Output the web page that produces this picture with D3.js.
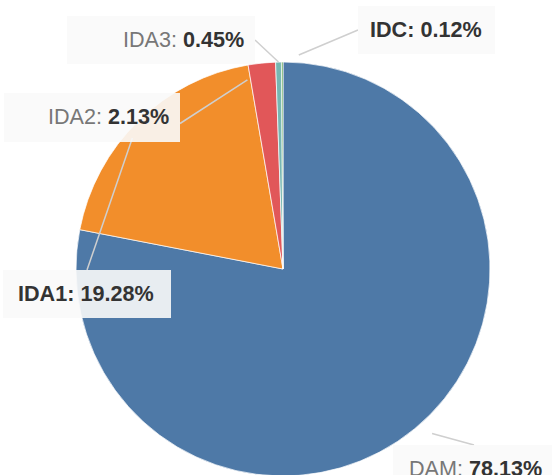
<!DOCTYPE html>
<html>
<head>
<meta charset="utf-8">
<script src="https://cdn.jsdelivr.net/npm/d3@7"></script>
<style>
  html, body { margin: 0; padding: 0; background: #fff; }
  svg { display: block; font-family: "Liberation Sans", Arial, sans-serif; }
</style>
</head>
<body>
<svg id="chart" width="552" height="475"></svg>
<script>
// market shares by segment (percent)
var categories = ["DAM", "IDA1", "IDA2", "IDA3", "IDC"];
var shares = [78.13, 19.28, 2.13, 0.45, 0.12];
var colors = ["#4e79a7", "#f28e2b", "#e15759", "#76b7b2", "#59a14f"];

// label boxes placed by hand, like the original
var labelLayout = {
    DAM:  { box: [393, 445, 162, 48], tx: 409, side: "top",   gap: 18, lr: 207 },
    IDA1: { box: [3, 270, 168, 48],   tx: 18,  side: "top",   gap: 18, lr: 207, strong: true },
    IDA2: { box: [4, 93, 176, 49],    tx: 48,  side: "right", gap: 18, lr: 200, dy: 6 },
    IDA3: { box: [67, 16, 188, 48],   tx: 123, side: "right", gap: 0,  lr: 207 },
    IDC:  { box: [358, 6, 137, 48],   tx: 370, side: "left",  gap: 18, lr: 207, strong: true }
};

var cx = 283, cy = 269, radius = 207;

var svg = d3.select("#chart");

var color = d3.scaleOrdinal()
    .domain(categories)
    .range(colors);

var pie = d3.pie()
    .sort(null)
    .value(function (d) { return d.value; });

var arc = d3.arc()
    .innerRadius(0)
    .outerRadius(radius);

var data = categories.map(function (c, i) { return { name: c, value: shares[i] }; });
var slices = pie(data);

var g = svg.append("g")
    .attr("transform", "translate(" + cx + "," + cy + ")");

g.selectAll("path.slice")
    .data(slices)
    .enter().append("path")
    .attr("class", "slice")
    .attr("d", arc)
    .attr("fill", function (d) { return color(d.data.name); })
    .attr("stroke", "#fff")
    .attr("stroke-width", 0.7);

function pointAt(angle, r) {
    return [cx + r * Math.sin(angle), cy - r * Math.cos(angle)];
}

function attachPoint(L) {
    var b = L.box, dy = L.dy || 0;
    if (L.side === "top") return [b[0] + b[2] / 2, b[1]];
    if (L.side === "right") return [b[0] + b[2], b[1] + b[3] / 2 + dy];
    return [b[0], b[1] + b[3] / 2 + dy];
}

// leader lines
svg.append("g").selectAll("line")
    .data(slices)
    .enter().append("line")
    .each(function (d) {
        var L = labelLayout[d.data.name];
        var mid = (d.startAngle + d.endAngle) / 2;
        var p = pointAt(mid, L.lr);
        var q = attachPoint(L);
        var dx = q[0] - p[0], dy = q[1] - p[1];
        var len = Math.sqrt(dx * dx + dy * dy);
        var s = [p[0] + dx / len * L.gap, p[1] + dy / len * L.gap];
        d3.select(this)
            .attr("x1", s[0]).attr("y1", s[1])
            .attr("x2", q[0]).attr("y2", q[1]);
    })
    .attr("stroke", "#cfcfcf")
    .attr("stroke-width", 1.5);

// labels
var labels = svg.append("g").selectAll("g")
    .data(slices)
    .enter().append("g");

labels.append("rect")
    .attr("x", function (d) { return labelLayout[d.data.name].box[0]; })
    .attr("y", function (d) { return labelLayout[d.data.name].box[1]; })
    .attr("width", function (d) { return labelLayout[d.data.name].box[2]; })
    .attr("height", function (d) { return labelLayout[d.data.name].box[3]; })
    .attr("fill", "#f9f9f9")
    .attr("fill-opacity", 0.9);

var text = labels.append("text")
    .attr("x", function (d) { return labelLayout[d.data.name].tx; })
    .attr("y", function (d) { return labelLayout[d.data.name].box[1] + 30.5; })
    .attr("font-size", "21.6px");

text.append("tspan")
    .text(function (d) { return d.data.name + ": "; })
    .attr("fill", function (d) { return labelLayout[d.data.name].strong ? "#333" : "#777"; })
    .attr("font-weight", function (d) { return labelLayout[d.data.name].strong ? "bold" : "normal"; });

text.append("tspan")
    .text(function (d) { return d3.format(".2f")(d.data.value) + "%"; })
    .attr("fill", "#333")
    .attr("font-weight", "bold");
</script>
</body>
</html>
